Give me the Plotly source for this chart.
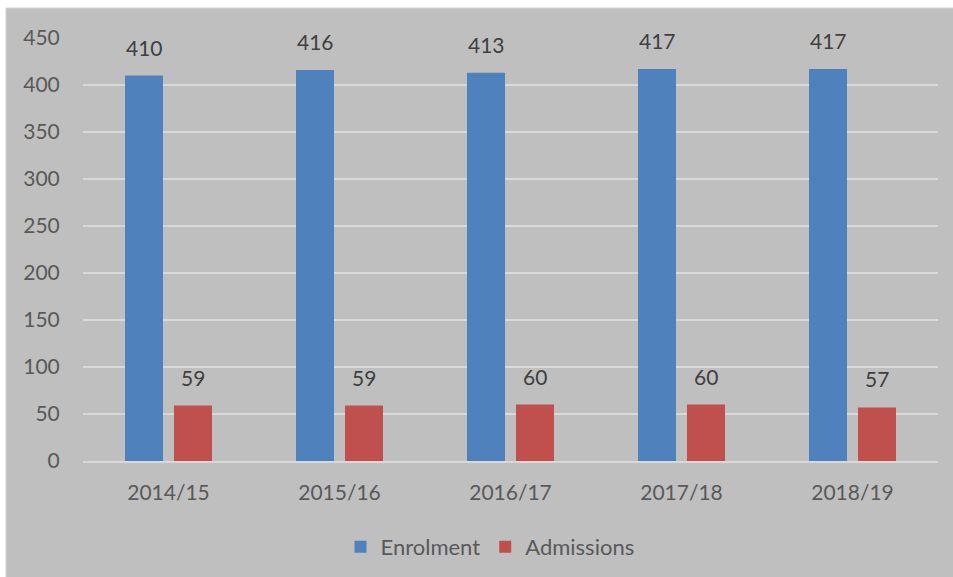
import plotly.graph_objects as go

years = ["2014/15", "2015/16", "2016/17", "2017/18", "2018/19"]
enrolment = [410, 416, 413, 417, 417]
admissions = [59, 59, 60, 60, 57]

W, H = 953, 577
L, R, T, B = 83, 15, 38, 116
pw, ph = W - L - R, H - T - B

def px_x(x):
    return (x - L) / pw

def px_y(y):
    return (H - B - y) / ph

font = "Lato, 'Open Sans', sans-serif"
txt = "#404040"
tick = "#595959"

fig = go.Figure()
fig.add_trace(go.Bar(x=years, y=enrolment, name="Enrolment", marker=dict(color="#4f81bd", line=dict(width=0))))
fig.add_trace(go.Bar(x=years, y=admissions, name="Admissions", marker=dict(color="#c0504d", line=dict(width=0))))

# data labels above bars (offset half a bar slot left/right of category centre)
slot = pw / len(years) * (1 - 0.427) / 2
for vals, sh in ((enrolment, -slot / 2), (admissions, slot / 2)):
    for yr, v in zip(years, vals):
        fig.add_annotation(x=yr, y=v, xref="x", yref="y", text=str(v), showarrow=False,
                           xshift=sh, yshift=14, yanchor="bottom",
                           font=dict(size=21, color=txt, family=font))

fig.add_shape(type="rect", xref="paper", yref="paper",
              x0=px_x(6), x1=px_x(W + 2), y0=px_y(H + 2), y1=px_y(8),
              fillcolor="#bfbfbf", line=dict(color="#d4d4d4", width=1), layer="below")

fig.update_layout(
    width=W, height=H,
    margin=dict(l=L, r=R, t=T, b=B, autoexpand=False),
    paper_bgcolor="white", plot_bgcolor="rgba(0,0,0,0)",
    barmode="group", bargap=0.427, bargroupgap=0.224,
    font=dict(family=font, color=txt),
    showlegend=True,
    legend=dict(orientation="h", x=px_x(490), xanchor="center", y=px_y(547), yanchor="middle",
                font=dict(size=22, color=tick, family=font), bgcolor="rgba(0,0,0,0)",
                itemwidth=30, traceorder="normal"),
    xaxis=dict(showgrid=False, showline=True, linecolor="#d9d9d9", linewidth=2, automargin=False,
               ticks="outside", ticklen=12, tickcolor="rgba(0,0,0,0)",
               tickfont=dict(size=21, color=tick, family=font)),
    yaxis=dict(range=[0, 450], dtick=50, showgrid=True, gridcolor="#d9d9d9", gridwidth=2,
               zeroline=False, showline=False, automargin=False,
               ticks="outside", ticklen=18, tickcolor="rgba(0,0,0,0)",
               tickfont=dict(size=21, color=tick, family=font)),
)

fig.write_html("out.html")
